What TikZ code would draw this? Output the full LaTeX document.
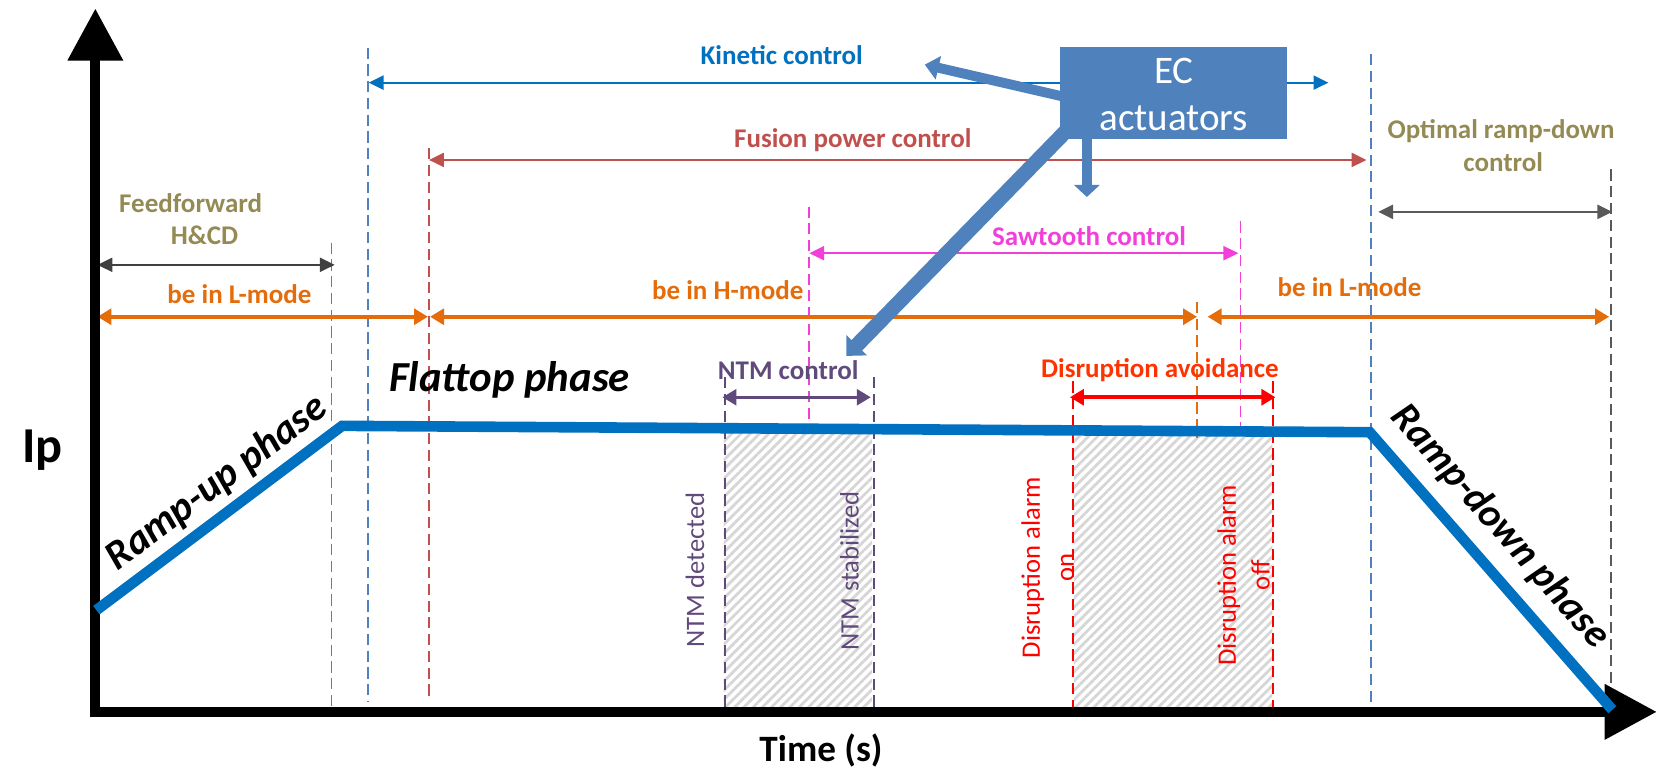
\documentclass[tikz,border=0pt]{standalone}
\usepackage{fontspec}
\setmainfont{Carlito}
\usetikzlibrary{arrows.meta,patterns.meta}
\definecolor{ipblue}{HTML}{0070C0}
\definecolor{dblue}{HTML}{4F81BD}
\definecolor{fusred}{HTML}{C0504D}
\definecolor{olive}{HTML}{948A54}
\definecolor{orng}{HTML}{E46C0A}
\definecolor{magen}{HTML}{F23FDA}
\definecolor{purp}{HTML}{604A7B}
\definecolor{disred}{HTML}{FF0000}
\definecolor{distxt}{HTML}{FF3300}
\definecolor{dgray}{HTML}{404040}
\definecolor{mgray}{HTML}{595959}
\definecolor{hatchgray}{HTML}{D6D6D6}
\tikzset{
 lbl/.style={font=\bfseries\fontsize{14.5}{17}\selectfont, inner sep=0pt},
 rotlbl/.style={font=\fontsize{14.3}{18.2}\selectfont, rotate=90, align=center, inner sep=0pt},
 vd/.style={line width=1pt, dash pattern=on 6pt off 3pt},
 thinspan/.style={line width=1.2pt, {Triangle[length=8pt,width=7.5pt]}-{Triangle[length=8pt,width=7.5pt]}},
 thickspan/.style={line width=2pt, {Triangle[length=7.5pt,width=8.5pt]}-{Triangle[length=7.5pt,width=8.5pt]}},
 fat/.style={draw=dblue, line width=5.3pt, -{Triangle[length=7.5pt,width=12.5pt]}},
 phase/.style={font=\bfseries\itshape\fontsize{22}{26}\selectfont, inner sep=0pt},
 hatch/.style={pattern={Lines[angle=45,distance=3.5pt,line width=1.5pt]}, pattern color=hatchgray},
 axis/.style={line width=5.5pt, -{Triangle[length=28pt,width=28.5pt]}},
 ipline/.style={draw=ipblue, line width=5.7pt}
}
\begin{document}
\begin{tikzpicture}[x=0.02cm,y=-0.02cm]
\useasboundingbox (0,0) rectangle (1568,735);
% hatched regions
\fill[hatch] (683,406) rectangle (823,670);
\fill[hatch] (1014,412) rectangle (1201,670);
% vertical dashed lines
\coordinate (v1t) at (313,229); \coordinate (v1b) at (313,672);
\coordinate (v2t) at (347,45);  \coordinate (v2b) at (347,663);
\coordinate (v3t) at (405,140); \coordinate (v3b) at (405,660);
\coordinate (v4t) at (764,195); \coordinate (v4b) at (764,410);
\coordinate (v5t) at (1171,209); \coordinate (v5b) at (1171,410);
\coordinate (v6t) at (1130,285); \coordinate (v6b) at (1130,413);
\coordinate (v7t) at (684,356); \coordinate (v7b) at (684,668);
\coordinate (v8t) at (825,356); \coordinate (v8b) at (825,668);
\coordinate (v9t) at (1013,360); \coordinate (v9b) at (1013,668);
\coordinate (v10t) at (1202,360); \coordinate (v10b) at (1202,668);
\coordinate (v11t) at (1294,51); \coordinate (v11b) at (1294,670);
\coordinate (v12t) at (1521,160); \coordinate (v12b) at (1521,670);
\draw[vd, dblue] (v1t) -- (v1b);
\draw[vd, dblue] (v2t) -- (v2b);
\draw[vd, fusred] (v3t) -- (v3b);
\draw[vd, magen] (v4t) -- (v4b);
\draw[vd, magen] (v5t) -- (v5b);
\draw[vd, orng] (v6t) -- (v6b);
\draw[vd, purp] (v7t) -- (v7b);
\draw[vd, purp] (v8t) -- (v8b);
\draw[vd, disred] (v9t) -- (v9b);
\draw[vd, disred] (v10t) -- (v10b);
\draw[vd, dblue] (v11t) -- (v11b);
\draw[vd, mgray] (v12t) -- (v12b);
% span arrows
\coordinate (k1) at (348,78); \coordinate (k2) at (1254,78);
\coordinate (f1) at (405,151); \coordinate (f2) at (1290,151);
\coordinate (ff1) at (92,250); \coordinate (ff2) at (316,250);
\coordinate (o1) at (92,299); \coordinate (o2) at (404,299);
\coordinate (o3) at (406,299); \coordinate (o4) at (1130,299);
\coordinate (o5) at (1140,299); \coordinate (o6) at (1519,299);
\coordinate (s1) at (764,239); \coordinate (s2) at (1169,239);
\coordinate (r1) at (1301,200); \coordinate (r2) at (1522,200);
\coordinate (n1) at (682,375); \coordinate (n2) at (822,375);
\coordinate (d1) at (1010,375); \coordinate (d2) at (1204,375);
\draw[thinspan, ipblue] (k1) -- (k2);
\draw[thinspan, fusred] (f1) -- (f2);
\draw[thinspan, dgray] (ff1) -- (ff2);
\draw[thickspan, orng] (o1) -- (o2);
\draw[thickspan, orng] (o3) -- (o4);
\draw[thickspan, orng] (o5) -- (o6);
\draw[thinspan, magen] (s1) -- (s2);
\draw[thinspan, mgray] (r1) -- (r2);
\draw[thickspan, purp, line width=1.7pt] (n1) -- (n2);
\draw[thickspan, disred] (d1) -- (d2);
% labels
\node[lbl, ipblue] (tk) at (738,52) {Kinetic control};
\node[lbl, fusred] (tf) at (805,132) {Fusion power control};
\node[lbl, olive] (tff1) at (180,192) {Feedforward};
\node[lbl, olive] (tff2) at (193,222) {H\&CD};
\node[lbl, orng] (tl1) at (226,278) {be in L-mode};
\node[lbl, orng] (th) at (687,274) {be in H-mode};
\node[lbl, magen] (ts) at (1028,223) {Sawtooth control};
\node[lbl, orng] (tl2) at (1274,271) {be in L-mode};
\node[lbl, olive] (tr1) at (1417,124) {Optimal ramp-down};
\node[lbl, olive] (tr2) at (1419,153) {control};
\node[lbl, purp] (tn) at (744,349) {NTM control};
\node[lbl, distxt] (td) at (1095,349) {Disruption avoidance};
% rotated labels
\node[rotlbl, purp] (nd) at (656,538) {NTM detected};
\node[rotlbl, purp] (ns) at (802,539) {NTM stabilized};
\node[rotlbl, disred] (don) at (989,536) {Disruption alarm\\on};
\node[rotlbl, disred] (doff) at (1174,543) {Disruption alarm\\off};
% axes
\coordinate (yb) at (90,677); \coordinate (yt) at (90,8);
\coordinate (xl) at (86,672); \coordinate (xr) at (1564,672);
\draw[axis] (yb) -- (yt);
\draw[axis] (xl) -- (xr);
% Ip curve
\coordinate (p0) at (91,576); \coordinate (p1) at (323,402);
\coordinate (p2) at (1293,408); \coordinate (p3) at (1522,670);
\draw[ipline] (p0) -- (p1) -- (p2) -- (p3);
\node[phase, rotate=36.9] (tru) at (205,456) {Ramp-up phase};
\node[phase, font=\bfseries\itshape\fontsize{23}{27}\selectfont] (tft) at (481,359) {Flattop phase};
\node[phase, font=\bfseries\itshape\fontsize{21.5}{25}\selectfont, rotate=-48.7] (trd) at (1416,497) {Ramp-down phase};
\node[font=\bfseries\fontsize{27}{30}\selectfont, inner sep=0pt] (tip) at (40,425) {Ip};
\node[font=\bfseries\fontsize{20}{24}\selectfont, inner sep=0pt] (tt) at (775,708) {Time (s)};
% EC actuators
\node[fill=dblue, minimum width=214*0.02cm, minimum height=87*0.02cm, inner sep=0pt] (ec) at (1108,87.5) {};
\node[white, font=\fontsize{21}{24}\selectfont, inner sep=0pt] (ec1) at (1108,67) {EC};
\node[white, font=\fontsize{21}{24}\selectfont, inner sep=0pt] (ec2) at (1108,112) {actuators};
\coordinate (a1s) at (1003,91); \coordinate (a1e) at (873,61);
\coordinate (a2s) at (1026,129); \coordinate (a2e) at (1026,186);
\coordinate (a3s) at (1009,121); \coordinate (a3e) at (799,336);
\draw[fat] (a1s) -- (a1e);
\draw[fat, line width=5.7pt, -{Triangle[length=6.5pt,width=13.5pt]}] (a2s) -- (a2e);
\draw[fat, line width=8pt, -{Triangle[length=8pt,width=15pt]}] (a3s) -- (a3e);
\end{tikzpicture}
\end{document}
